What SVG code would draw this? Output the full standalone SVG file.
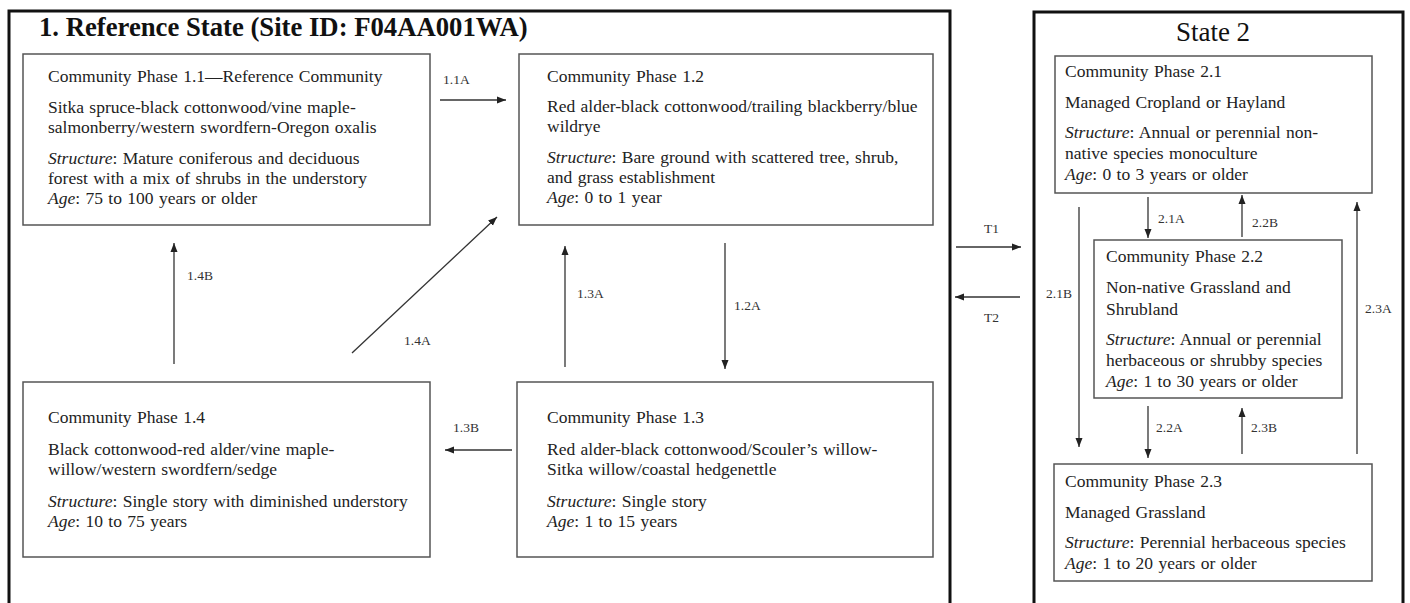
<svg xmlns="http://www.w3.org/2000/svg" width="1410" height="603" viewBox="0 0 1410 603">
<defs>
<marker id="ah" markerUnits="userSpaceOnUse" markerWidth="10" markerHeight="8" refX="9" refY="4" orient="auto">
<path d="M0,0.5 L9,4 L0,7.5 z" fill="#222"/>
</marker>
<style>
.state{fill:none;stroke:#111;stroke-width:3}
.box{fill:#fff;stroke:#555;stroke-width:1.5}
.t{font-family:"Liberation Serif","Times New Roman",serif;font-size:17.5px;fill:#222;word-spacing:1px}
.i{font-style:italic}
.lbl{font-family:"Liberation Serif","Times New Roman",serif;font-size:13.5px;fill:#333}
.title{font-family:"Liberation Serif","Times New Roman",serif;font-size:26.7px;font-weight:bold;fill:#111}
.title2{font-family:"Liberation Serif","Times New Roman",serif;font-size:27px;fill:#111}
.c{fill:none;stroke:#333;stroke-width:1.3;marker-end:url(#ah)}
</style>
</defs>
<rect width="1410" height="603" fill="#fff"/>
<g id="state1">
<rect class="state" x="9" y="11" width="941" height="600"/>
<text class="title" x="39" y="36">1. Reference State (Site ID: F04AA001WA)</text>
</g>
<g id="state2">
<rect class="state" x="1034" y="12" width="369" height="600"/>
<text class="title2" x="1213" y="41" text-anchor="middle">State 2</text>
</g>
<g id="cp11">
<rect class="box" x="23" y="54" width="407" height="171"/>
<text class="t" x="48" y="82">Community Phase 1.1—Reference Community</text>
<text class="t" x="48" y="113">Sitka spruce-black cottonwood/vine maple-</text>
<text class="t" x="48" y="133">salmonberry/western swordfern-Oregon oxalis</text>
<text class="t" x="48" y="164"><tspan class="i">Structure</tspan>: Mature coniferous and deciduous</text>
<text class="t" x="48" y="184">forest with a mix of shrubs in the understory</text>
<text class="t" x="48" y="204"><tspan class="i">Age</tspan>: 75 to 100 years or older</text>
</g>
<g id="cp12">
<rect class="box" x="519" y="54" width="414" height="171"/>
<text class="t" x="547" y="82">Community Phase 1.2</text>
<text class="t" x="547" y="112">Red alder-black cottonwood/trailing blackberry/blue</text>
<text class="t" x="547" y="132">wildrye</text>
<text class="t" x="547" y="163"><tspan class="i">Structure</tspan>: Bare ground with scattered tree, shrub,</text>
<text class="t" x="547" y="183">and grass establishment</text>
<text class="t" x="547" y="203"><tspan class="i">Age</tspan>: 0 to 1 year</text>
</g>
<g id="cp13">
<rect class="box" x="517" y="382" width="416" height="175"/>
<text class="t" x="547" y="423">Community Phase 1.3</text>
<text class="t" x="547" y="455">Red alder-black cottonwood/Scouler’s willow-</text>
<text class="t" x="547" y="475">Sitka willow/coastal hedgenettle</text>
<text class="t" x="547" y="507"><tspan class="i">Structure</tspan>: Single story</text>
<text class="t" x="547" y="527"><tspan class="i">Age</tspan>: 1 to 15 years</text>
</g>
<g id="cp14">
<rect class="box" x="23" y="382" width="407" height="175"/>
<text class="t" x="48" y="423">Community Phase 1.4</text>
<text class="t" x="48" y="455">Black cottonwood-red alder/vine maple-</text>
<text class="t" x="48" y="475">willow/western swordfern/sedge</text>
<text class="t" x="48" y="507"><tspan class="i">Structure</tspan>: Single story with diminished understory</text>
<text class="t" x="48" y="527"><tspan class="i">Age</tspan>: 10 to 75 years</text>
</g>
<g id="cp21">
<rect class="box" x="1055" y="56" width="317" height="137"/>
<text class="t" x="1065" y="77">Community Phase 2.1</text>
<text class="t" x="1065" y="108">Managed Cropland or Hayland</text>
<text class="t" x="1065" y="138"><tspan class="i">Structure</tspan>: Annual or perennial non-</text>
<text class="t" x="1065" y="159">native species monoculture</text>
<text class="t" x="1065" y="180"><tspan class="i">Age</tspan>: 0 to 3 years or older</text>
</g>
<g id="cp22">
<rect class="box" x="1094" y="240" width="248" height="158"/>
<text class="t" x="1106" y="262">Community Phase 2.2</text>
<text class="t" x="1106" y="293">Non-native Grassland and</text>
<text class="t" x="1106" y="315">Shrubland</text>
<text class="t" x="1106" y="345"><tspan class="i">Structure</tspan>: Annual or perennial</text>
<text class="t" x="1106" y="366">herbaceous or shrubby species</text>
<text class="t" x="1106" y="387"><tspan class="i">Age</tspan>: 1 to 30 years or older</text>
</g>
<g id="cp23">
<rect class="box" x="1054" y="464" width="318" height="117"/>
<text class="t" x="1065" y="487">Community Phase 2.3</text>
<text class="t" x="1065" y="518">Managed Grassland</text>
<text class="t" x="1065" y="548"><tspan class="i">Structure</tspan>: Perennial herbaceous species</text>
<text class="t" x="1065" y="569"><tspan class="i">Age</tspan>: 1 to 20 years or older</text>
</g>
<g id="connectors">
<line class="c" x1="440" y1="100" x2="506" y2="100"/>
<text class="lbl" x="443" y="84">1.1A</text>
<line class="c" x1="352" y1="353" x2="497" y2="217"/>
<text class="lbl" x="404" y="345">1.4A</text>
<line class="c" x1="174" y1="364" x2="174" y2="243"/>
<text class="lbl" x="187" y="280">1.4B</text>
<line class="c" x1="565" y1="367" x2="565" y2="246"/>
<text class="lbl" x="577" y="298">1.3A</text>
<line class="c" x1="725" y1="243" x2="725" y2="369"/>
<text class="lbl" x="734" y="310">1.2A</text>
<line class="c" x1="512" y1="450" x2="445" y2="450"/>
<text class="lbl" x="453" y="432">1.3B</text>
<line class="c" x1="956" y1="247" x2="1021" y2="247"/>
<text class="lbl" x="984" y="233">T1</text>
<line class="c" x1="1020" y1="297" x2="955" y2="297"/>
<text class="lbl" x="984" y="322">T2</text>
<line class="c" x1="1148" y1="197" x2="1148" y2="238"/>
<text class="lbl" x="1158" y="223">2.1A</text>
<line class="c" x1="1242" y1="237" x2="1242" y2="195"/>
<text class="lbl" x="1252" y="227">2.2B</text>
<line class="c" x1="1079" y1="207" x2="1079" y2="447"/>
<text class="lbl" x="1046" y="298">2.1B</text>
<line class="c" x1="1357" y1="454" x2="1357" y2="202"/>
<text class="lbl" x="1365" y="313">2.3A</text>
<line class="c" x1="1148" y1="406" x2="1148" y2="458"/>
<text class="lbl" x="1156" y="432">2.2A</text>
<line class="c" x1="1242" y1="454" x2="1242" y2="408"/>
<text class="lbl" x="1251" y="432">2.3B</text>
</g>
</svg>
